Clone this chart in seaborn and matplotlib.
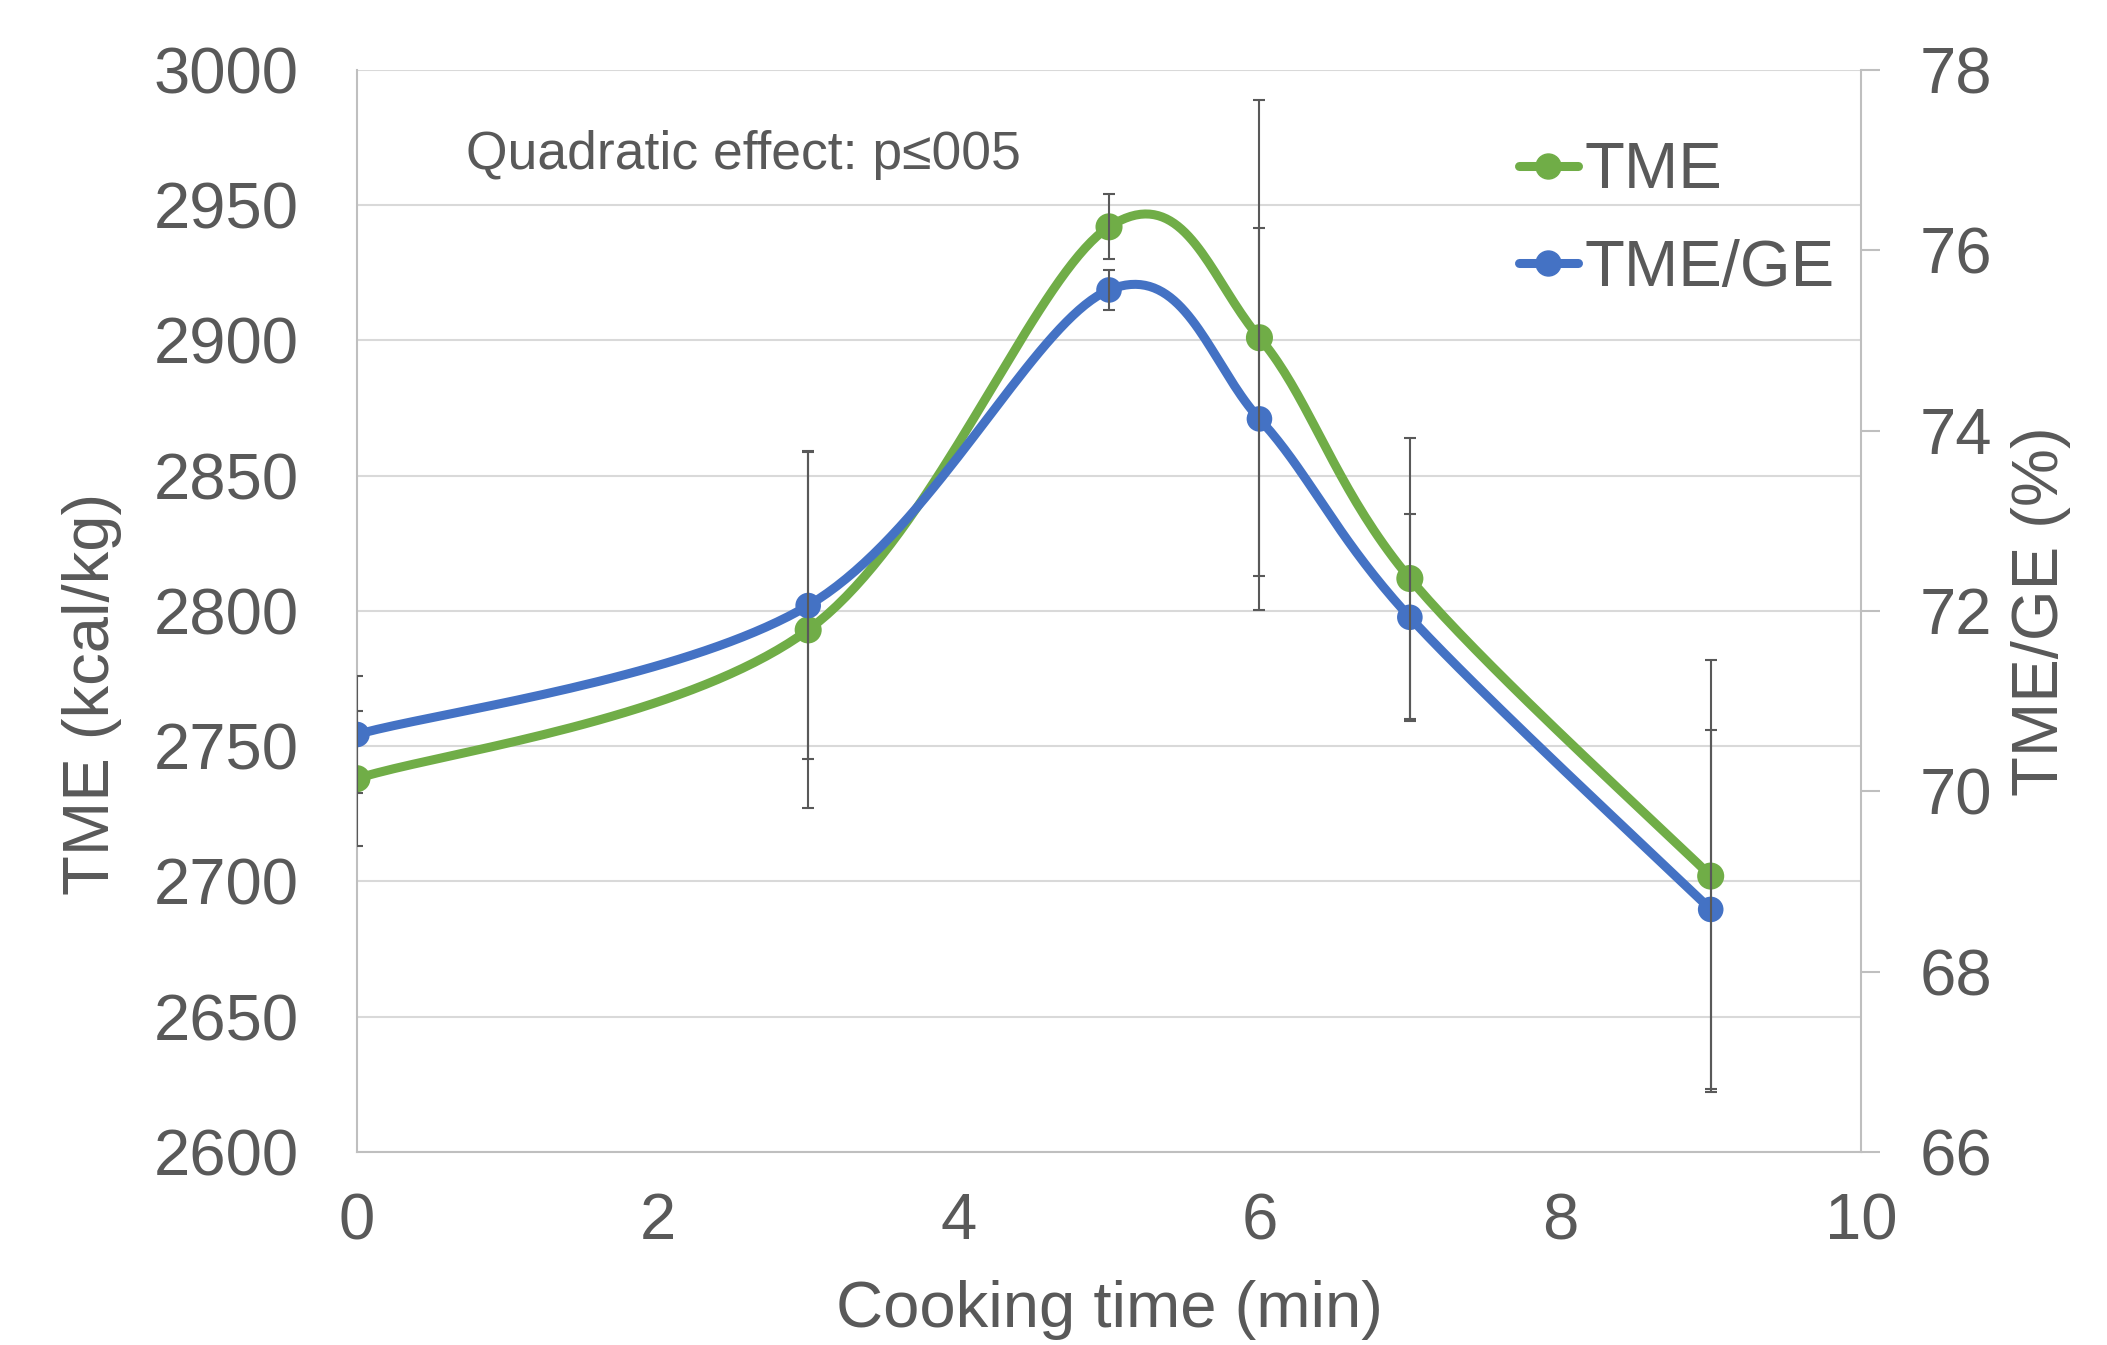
import numpy as np
import pandas as pd
import matplotlib.pyplot as plt
import seaborn as sns
from matplotlib.lines import Line2D

# Datos
tiempo_coccion = [0, 3, 5, 6, 7, 9]
tme = [2738, 2793, 2942, 2901, 2812, 2702]
tme_de = [25, 66, 12, 88, 52, 80]
tme_ge = [70.63, 72.06, 75.56, 74.13, 71.93, 68.69]
tme_ge_de = [0.65, 1.70, 0.22, 2.12, 1.15, 1.99]

VERDE = '#70AD47'
AZUL = '#4472C4'
TEXTO = '#595959'
EJE = '#BFBFBF'

sns.set_theme(style="white")
plt.rcParams['font.family'] = ['Liberation Sans', 'DejaVu Sans']


def suavizar(x, y, n=40):
    # curva suavizada tipo Excel (Bezier con tensión 1/6)
    p = np.column_stack([x, y]).astype(float)
    ext = np.vstack([p[0], p, p[-1]])
    t = np.linspace(0, 1, n)[:, None]
    tramos = []
    for i in range(len(p) - 1):
        p0, p1 = ext[i + 1], ext[i + 2]
        c1 = p0 + (ext[i + 2] - ext[i]) / 6
        c2 = p1 - (ext[i + 3] - ext[i + 1]) / 6
        b = (1 - t) ** 3 * p0 + 3 * (1 - t) ** 2 * t * c1 + 3 * (1 - t) * t ** 2 * c2 + t ** 3 * p1
        tramos.append(b if i == 0 else b[1:])
    c = np.vstack(tramos)
    return pd.DataFrame({'x': c[:, 0], 'y': c[:, 1]})


fig = plt.figure(figsize=(21.07, 13.45), dpi=100)
ax = fig.add_axes([0.1694, 0.1435, 0.7139, 0.8045])
ax2 = ax.twinx()

# TME (eje izquierdo)
curva = suavizar(tiempo_coccion, tme)
sns.lineplot(data=curva, x='x', y='y', sort=False, estimator=None, color=VERDE, lw=6.5, ax=ax)
sns.scatterplot(x=tiempo_coccion, y=tme, color=VERDE, s=380, edgecolor='none', ax=ax, zorder=4)
ax.errorbar(tiempo_coccion, tme, yerr=tme_de, fmt='none', ecolor=TEXTO, elinewidth=1.5,
            capsize=4.3, capthick=1.5, zorder=5)

# TME/GE (eje derecho)
curva2 = suavizar(tiempo_coccion, tme_ge)
sns.lineplot(data=curva2, x='x', y='y', sort=False, estimator=None, color=AZUL, lw=6.5, ax=ax2)
sns.scatterplot(x=tiempo_coccion, y=tme_ge, color=AZUL, s=340, edgecolor='none', ax=ax2, zorder=4)
ax2.errorbar(tiempo_coccion, tme_ge, yerr=tme_ge_de, fmt='none', ecolor=TEXTO, elinewidth=1.5,
             capsize=4.3, capthick=1.5, zorder=5)

ax.set_xlim(0, 10)
ax.set_ylim(2600, 3000)
ax2.set_ylim(66, 78)
ax.set_xticks(range(0, 11, 2))
ax.set_yticks(range(2600, 3001, 50))
ax2.set_yticks(range(66, 79, 2))
ax.grid(axis='y', color='#D9D9D9', lw=1.5)
ax.grid(axis='x', visible=False)
ax.set_axisbelow(True)

for s in ['top', 'right']:
    ax.spines[s].set_visible(False)
for s in ['left', 'bottom']:
    ax.spines[s].set_color(EJE)
    ax.spines[s].set_linewidth(1.5)
for s in ['top', 'left', 'bottom']:
    ax2.spines[s].set_visible(False)
ax2.spines['right'].set_color(EJE)
ax2.spines['right'].set_linewidth(1.5)

ax.tick_params(axis='y', length=0, pad=42, labelsize=47, labelcolor=TEXTO)
ax.tick_params(axis='x', length=0, pad=29, labelsize=47, labelcolor=TEXTO)
ax2.tick_params(axis='y', length=14, width=1.5, color=EJE, pad=28, labelsize=47, labelcolor=TEXTO)

ax.set_xlabel('Cooking time (min)', fontsize=47, color=TEXTO)
ax.set_ylabel('TME (kcal/kg)', fontsize=47, color=TEXTO)
ax2.set_ylabel('TME/GE (%)', fontsize=47, color=TEXTO)
ax.xaxis.set_label_coords(0.5, -0.118)
ax.yaxis.set_label_coords(-0.156, 0.423)
ax2.yaxis.set_label_coords(1.0995, 0.5)

ax.text(0.0725, 0.921, 'Quadratic effect: p≤005', transform=ax.transAxes, fontsize=38.5,
        color=TEXTO, va='center', ha='left')

manejadores = [
    Line2D([0], [0], color=VERDE, lw=6.5, marker='o', markersize=18),
    Line2D([0], [0], color=AZUL, lw=6.5, marker='o', markersize=18),
]
leg = ax2.legend(manejadores, ['TME', 'TME/GE'], loc='upper left', bbox_to_anchor=(0.7726, 0.934),
                 frameon=False, fontsize=47, handlelength=0.9, handletextpad=0.1,
                 labelspacing=0.57, borderpad=0, borderaxespad=0)
for t in leg.get_texts():
    t.set_color(TEXTO)

fig.savefig('out.png', dpi=100)
plt.close(fig)
